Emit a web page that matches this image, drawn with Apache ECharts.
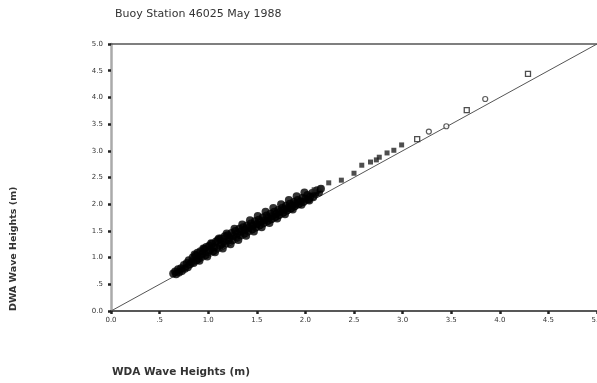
<!DOCTYPE html>
<html>
<head>
<meta charset="utf-8">
<script src="https://cdn.jsdelivr.net/npm/echarts@6/dist/echarts.min.js"></script>
<style>
  html, body { margin: 0; padding: 0; background: #fff; }
  #chart { width: 597px; height: 383px; }
</style>
</head>
<body>
<div id="chart"></div>
<script>
// Buoy Station 46025, May 1988: DWA vs WDA significant wave heights (m)
const titleText = 'Buoy Station 46025 May 1988';
const xName = 'WDA Wave Heights (m)';
const yName = 'DWA Wave Heights (m)';
const tickLabels = ['0.0', '.5', '1.0', '1.5', '2.0', '2.5', '3.0', '3.5', '4.0', '4.5', '5.0'];

// dense cloud of hourly pairs (WDA, DWA)
const denseWDA = [
  0.64, 0.66, 0.67, 0.69, 0.70, 0.72, 0.73, 0.75, 0.76, 0.78, 0.79, 0.80, 0.81, 0.83, 0.84, 0.85,
  0.87, 0.88, 0.89, 0.90, 0.92, 0.93, 0.94, 0.96, 0.97, 0.98, 1.00, 1.01, 1.02, 1.04, 1.05, 1.06,
  1.08, 1.09, 1.10, 1.12, 1.13, 1.14, 1.16, 1.17, 1.18, 1.20, 1.21, 1.22, 1.24, 1.25, 1.26, 1.28,
  1.29, 1.30, 1.32, 1.33, 1.34, 1.36, 1.37, 1.38, 1.40, 1.41, 1.42, 1.44, 1.45, 1.46, 1.48, 1.49,
  1.50, 1.52, 1.53, 1.54, 1.56, 1.57, 1.58, 1.60, 1.61, 1.62, 1.64, 1.65, 1.66, 1.68, 1.69, 1.70,
  1.72, 1.73, 1.74, 1.76, 1.77, 1.78, 1.80, 1.81, 1.82, 1.84, 1.85, 1.86, 1.88, 1.89, 1.90, 1.92,
  1.93, 1.95, 1.97, 1.98, 2.00, 2.02, 2.03, 2.05, 2.07, 2.08, 2.10, 2.12, 2.14, 2.16
];
const denseDWA = [
  0.70, 0.74, 0.69, 0.78, 0.72, 0.80, 0.75, 0.86, 0.79, 0.90, 0.82, 0.95, 0.87, 0.92, 1.00, 0.90,
  1.04, 0.95, 1.09, 0.99, 1.12, 1.02, 1.07, 1.16, 1.05, 1.20, 1.10, 1.22, 1.14, 1.26, 1.12, 1.20,
  1.30, 1.18, 1.33, 1.22, 1.36, 1.25, 1.30, 1.40, 1.27, 1.42, 1.32, 1.37, 1.46, 1.33, 1.41, 1.50,
  1.38, 1.45, 1.54, 1.42, 1.49, 1.57, 1.45, 1.52, 1.60, 1.50, 1.56, 1.64, 1.53, 1.60, 1.68, 1.57,
  1.63, 1.71, 1.61, 1.67, 1.75, 1.65, 1.70, 1.79, 1.69, 1.74, 1.82, 1.72, 1.78, 1.86, 1.76, 1.82,
  1.89, 1.80, 1.86, 1.93, 1.84, 1.90, 1.97, 1.88, 1.93, 2.01, 1.92, 1.97, 2.04, 1.96, 2.01, 2.08,
  2.00, 2.05, 2.12, 2.04, 2.10, 2.17, 2.09, 2.14, 2.21, 2.13, 2.19, 2.26, 2.22, 2.29
];
// outlying members of the same cloud (upper and lower fringe)
const fringeWDA = [
  0.86, 0.95, 1.03, 1.11, 1.19, 1.27, 1.35, 1.43, 1.51, 1.59, 1.67, 1.75, 1.83, 1.91, 1.99,
  0.91, 0.99, 1.07, 1.15, 1.23, 1.31, 1.39, 1.47, 1.55, 1.63, 1.71, 1.79, 1.87, 1.96, 2.04
];
const fringeDWA = [
  1.06, 1.17, 1.27, 1.36, 1.45, 1.54, 1.62, 1.70, 1.78, 1.86, 1.93, 2.00, 2.08, 2.15, 2.22,
  0.94, 1.02, 1.10, 1.17, 1.25, 1.33, 1.41, 1.49, 1.57, 1.65, 1.73, 1.81, 1.90, 1.99, 2.07
];

// scattered larger-wave pairs
const sparseWDA = [2.09, 2.16, 2.24, 2.37, 2.50, 2.58, 2.67, 2.73, 2.76, 2.84, 2.91, 2.99];
const sparseDWA = [2.27, 2.30, 2.40, 2.45, 2.58, 2.73, 2.79, 2.83, 2.88, 2.96, 3.01, 3.11];

// storm peak pairs, squares and circles
const squareWDA = [3.15, 3.66, 4.29];
const squareDWA = [3.22, 3.76, 4.44];
const circleWDA = [3.27, 3.45, 3.85];
const circleDWA = [3.36, 3.46, 3.97];

const zip = (a, b) => a.map((v, i) => [v, b[i]]);
const fmt = v => tickLabels[Math.round(v / 0.5)] || '';

const chart = echarts.init(document.getElementById('chart'), null, { renderer: 'canvas' });

const axisFont = { fontFamily: 'DejaVu Sans', fontSize: 7, color: '#333' };

chart.setOption({
  animation: false,
  backgroundColor: '#fff',
  title: {
    text: titleText,
    left: 110, top: 4,
    textStyle: { fontFamily: 'DejaVu Sans', fontSize: 11, fontWeight: 'normal', color: '#333' }
  },
  grid: {
    left: 111, right: 0, top: 44, bottom: 72,
    outerBoundsMode: 'none', containLabel: false
  },
  xAxis: [{
    type: 'value', min: 0, max: 5, interval: 0.5,
    axisLine: { show: true, onZero: false, lineStyle: { color: '#222', width: 1.5 } },
    axisTick: { show: true, inside: false, length: 3, lineStyle: { color: '#222', width: 2.5 } },
    axisLabel: Object.assign({ formatter: fmt, margin: 6, hideOverlap: false }, axisFont),
    splitLine: { show: false }
  }, {
    // frame line along the top of the plot
    type: 'value', min: 0, max: 5, position: 'top',
    axisLine: { show: true, onZero: false, lineStyle: { color: '#555', width: 1.5 } },
    axisTick: { show: false }, axisLabel: { show: false }, splitLine: { show: false }
  }],
  yAxis: {
    type: 'value', min: 0, max: 5, interval: 0.5,
    axisLine: { show: true, onZero: false, lineStyle: { color: '#aaa', width: 2.5 } },
    axisTick: { show: true, inside: false, length: 3, lineStyle: { color: '#222', width: 2.5 } },
    axisLabel: Object.assign({ formatter: fmt, margin: 8 }, axisFont),
    splitLine: { show: false }
  },
  graphic: [{
    type: 'text', left: 112, top: 367,
    style: { text: xName, fontFamily: 'DejaVu Sans', fontSize: 10.5, fontWeight: 'bold', fill: '#333' }
  }, {
    type: 'text', x: 14, y: 311, rotation: Math.PI / 2,
    style: { text: yName, fontFamily: 'DejaVu Sans', fontSize: 9.5, fontWeight: 'bold', fill: '#333',
      align: 'left', verticalAlign: 'middle' },
    originX: 0, originY: 0
  }],
  series: [{
    name: 'one-to-one', type: 'line', data: [[0, 0], [5, 5]],
    symbol: 'none', lineStyle: { color: '#555', width: 1 }, silent: true, z: 1
  }, {
    name: 'dense', type: 'scatter', data: zip(denseWDA, denseDWA).concat(zip(fringeWDA, fringeDWA)),
    symbol: 'circle', symbolSize: 8, itemStyle: { color: '#000' }, z: 3
  }, {
    name: 'sparse', type: 'scatter', data: zip(sparseWDA, sparseDWA),
    symbol: 'rect', symbolSize: 5, itemStyle: { color: '#222' }, z: 3
  }, {
    name: 'squares', type: 'scatter', data: zip(squareWDA, squareDWA),
    symbol: 'rect', symbolSize: 5,
    itemStyle: { color: '#fff', borderColor: '#222', borderWidth: 1.3 }, z: 3
  }, {
    name: 'circles', type: 'scatter', data: zip(circleWDA, circleDWA),
    symbol: 'circle', symbolSize: 5,
    itemStyle: { color: '#fff', borderColor: '#333', borderWidth: 1.2 }, z: 3
  }]
});
</script>
</body>
</html>
